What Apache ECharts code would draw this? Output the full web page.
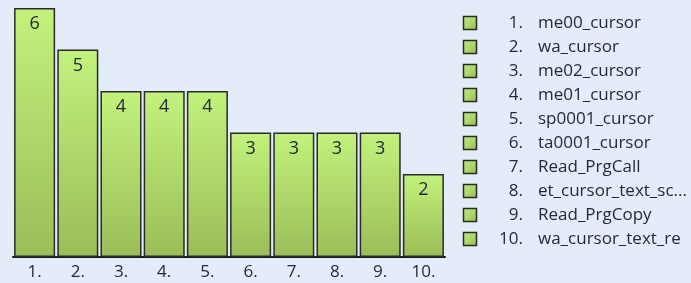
<!DOCTYPE html>
<html><head><meta charset="utf-8">
<script src="https://cdn.jsdelivr.net/npm/echarts@6/dist/echarts.min.js"></script>
<style>html,body{margin:0;padding:0;background:#e4ecfa}#c{width:691px;height:283px}</style>
</head><body><div id="c"></div>
<script>
const categories = ['1.','2.','3.','4.','5.','6.','7.','8.','9.','10.'];
const values = [6,5,4,4,4,3,3,3,3,2];
const legendNames = ['me00_cursor','wa_cursor','me02_cursor','me01_cursor','sp0001_cursor','ta0001_cursor','Read_PrgCall','et_cursor_text_sc...','Read_PrgCopy','wa_cursor_text_re'];

const FONT = '"Open Sans", "DejaVu Sans", sans-serif';
const TXT = '#26283a';
const barGrad = new echarts.graphic.LinearGradient(0,0,0,1,[{offset:0,color:'#c2f27c'},{offset:1,color:'#9bbd58'}]);
const sqGrad = new echarts.graphic.LinearGradient(0,0,1,1,[{offset:0,color:'#c6f283'},{offset:1,color:'#96bc55'}]);

const chart = echarts.init(document.getElementById('c'), null, {renderer:'canvas'});
const graphics = [];
legendNames.forEach((n,i)=>{
  const cy = 23 + i*24;
  graphics.push({type:'rect', shape:{x:463.5,y:cy-6.5,width:13,height:13}, style:{fill:sqGrad, stroke:'#2a2a2a', lineWidth:1.5}});
  graphics.push({type:'text', x:523, y:cy, style:{text:(i+1)+'.', font:'17px '+FONT, fill:TXT, align:'right', verticalAlign:'middle'}});
  graphics.push({type:'text', x:538, y:cy, style:{text:n, font:'17px '+FONT, fill:TXT, align:'left', verticalAlign:'middle'}});
});
chart.setOption({
  backgroundColor:'#e4ecfa',
  animation:false,
  grid:{left:13, top:8, width:432, height:249, containLabel:false},
  xAxis:{type:'category', data:categories, axisTick:{show:false},
    axisLine:{lineStyle:{color:'#1a1a1a', width:2}},
    axisLabel:{color:TXT, fontSize:17, fontFamily:FONT, margin:7}},
  yAxis:{type:'value', min:0, max:6, show:false, splitLine:{show:false}},
  series:[{type:'bar', data:values, barCategoryGap:'5%',
    itemStyle:{color:barGrad, borderColor:'#2a2a2a', borderWidth:1.5},
    label:{show:true, position:'insideTop', distance:7, color:TXT, fontSize:18, fontFamily:FONT}}],
  graphic:graphics
});
</script></body></html>
